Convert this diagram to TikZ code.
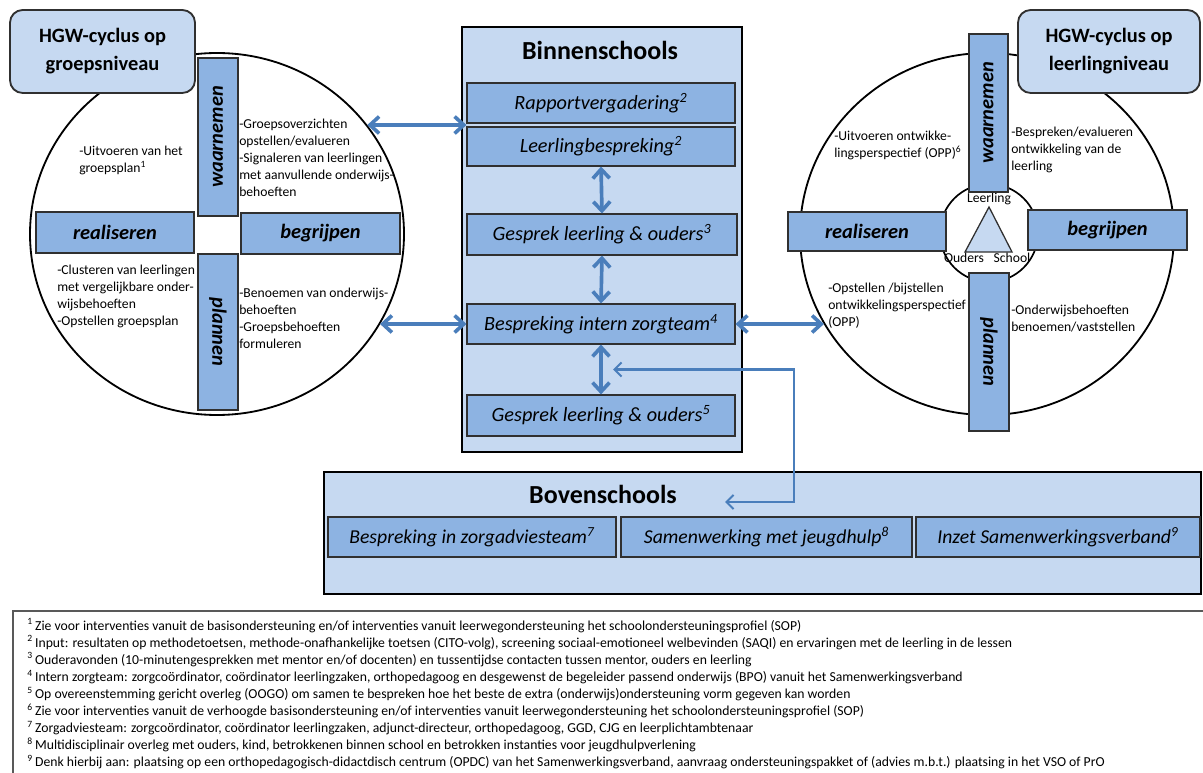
\documentclass[tikz,border=0pt]{standalone}
\usepackage{fontspec}
\setmainfont{Carlito}
\usetikzlibrary{arrows.meta,shapes.geometric,calc}
\definecolor{lichtblauw}{HTML}{C6D9F1}
\definecolor{middenblauw}{HTML}{8DB3E2}
\definecolor{pijlblauw}{HTML}{4A7EBB}
\definecolor{rand}{HTML}{303030}
\newcommand{\eenh}{0.025cm}
\tikzset{
  kop/.style={draw=rand, fill=lichtblauw, line width=1.3pt, rounded corners=9pt, align=center, font=\bfseries\fontsize{14.5}{20}\selectfont},
  fase/.style={draw=rand, fill=middenblauw, line width=0.9pt, inner sep=0pt, font=\bfseries\itshape\fontsize{14.5}{17}\selectfont},
  blok/.style={draw=rand, fill=middenblauw, line width=0.8pt, inner sep=0pt, font=\itshape\fontsize{14.4}{16}\selectfont},
  kader/.style={draw=black, fill=lichtblauw, line width=1.3pt, inner sep=0pt},
  uitleg/.style={anchor=north west, inner sep=0pt, align=left, font=\fontsize{9.7}{12.1}\selectfont},
  dubbel/.style={draw=pijlblauw, line width=2.6pt, {Straight Barb[length=6.5pt,width=12pt]}-{Straight Barb[length=6.5pt,width=12pt]}},
  terug/.style={draw=pijlblauw, line width=1.5pt, {Straight Barb[length=5pt,width=10pt]}-{Straight Barb[length=5pt,width=10pt]}},
}
\begin{document}
\begin{tikzpicture}[x=0.025cm, y=-0.025cm]
\useasboundingbox (0,0) rectangle (1203,773);
% linker cyclus
\node[ellipse, draw, line width=1.3pt, minimum width=374*\eenh, minimum height=362*\eenh] (lcirkel) at (217,234) {};
\node[fase, rotate=90, minimum width=158*\eenh, minimum height=40*\eenh] (lwaar) at (218,137) {waarnemen};
\node[fase, rotate=-90, minimum width=156*\eenh, minimum height=40*\eenh] (lplan) at (218,332) {plannen};
\node[fase, minimum width=158*\eenh, minimum height=41*\eenh] (lreal) at (115,232.5) {realiseren};
\node[fase, minimum width=159*\eenh, minimum height=41*\eenh] (lbegr) at (320.5,233.5) {begrijpen};
\node[kop, minimum width=185*\eenh, minimum height=83*\eenh] (ltitel) at (102.5,51.5) {HGW-cyclus op\\groepsniveau};
\node[uitleg] (luitv) at (79,146) {-Uitvoeren van het\\groepsplan\textsuperscript{1}};
\node[uitleg] (lgroep) at (239,119) {-Groepsoverzichten\\opstellen/evalueren\\-Signaleren van leerlingen\\met aanvullende onderwijs-\\behoeften};
\node[uitleg] (lclus) at (57,265) {-Clusteren van leerlingen\\met vergelijkbare onder-\\wijsbehoeften\\-Opstellen groepsplan};
\node[uitleg] (lbenoem) at (239,288) {-Benoemen van onderwijs-\\behoeften\\-Groepsbehoeften\\formuleren};
% rechter cyclus
\node[ellipse, draw, line width=1.3pt, minimum width=374*\eenh, minimum height=362*\eenh] (rcirkel) at (987,234) {};
\node[circle, draw, line width=1.2pt, fill=white, minimum size=98*\eenh] (kern) at (989,233) {};
\draw[draw=rand, fill=lichtblauw, line width=0.9pt] (989,207) -- (965,252) -- (1012,252) -- cycle;
\node[font=\fontsize{9.7}{11}\selectfont] (leerling) at (989,199) {Leerling};
\node[font=\fontsize{9.7}{11}\selectfont] (ouders) at (964,258) {Ouders};
\node[font=\fontsize{9.7}{11}\selectfont] (school) at (1012,258) {School};
\node[fase, rotate=90, minimum width=158*\eenh, minimum height=39*\eenh] (rwaar) at (988.5,113) {waarnemen};
\node[fase, rotate=-90, minimum width=158*\eenh, minimum height=40*\eenh] (rplan) at (989,352) {plannen};
\node[fase, minimum width=158*\eenh, minimum height=39*\eenh] (rreal) at (867,231.5) {realiseren};
\node[fase, minimum width=159*\eenh, minimum height=40*\eenh] (rbegr) at (1107.5,230) {begrijpen};
\node[kop, minimum width=182*\eenh, minimum height=83*\eenh] (rtitel) at (1109,51.5) {HGW-cyclus op\\leerlingniveau};
\node[uitleg] (ruitv) at (834,131) {-Uitvoeren ontwikke-\\lingsperspectief (OPP)\textsuperscript{6}};
\node[uitleg] (rbespr) at (1011,127) {-Bespreken/evalueren\\ontwikkeling van de\\leerling};
\node[uitleg] (ropst) at (828,283) {-Opstellen /bijstellen\\ontwikkelingsperspectief\\(OPP)};
\node[uitleg] (rbehoeft) at (1011,305) {-Onderwijsbehoeften\\benoemen/vaststellen};
% binnenschools
\node[kader, minimum width=280*\eenh, minimum height=425*\eenh] (binnen) at (602,239.5) {};
\node[font=\bfseries\fontsize{18.5}{20}\selectfont] (binnentitel) at (600,50) {Binnenschools};
\node[blok, minimum width=268*\eenh, minimum height=40*\eenh] (rapport) at (601,103) {Rapportvergadering\textsuperscript{2}};
\node[blok, minimum width=268*\eenh, minimum height=39*\eenh] (leerl) at (601,146.5) {Leerlingbespreking\textsuperscript{2}};
\node[blok, minimum width=270*\eenh, minimum height=41*\eenh] (gesprek1) at (602,234.5) {Gesprek leerling \& ouders\textsuperscript{3}};
\node[blok, minimum width=268*\eenh, minimum height=40*\eenh] (zorgteam) at (601,324) {Bespreking intern zorgteam\textsuperscript{4}};
\node[blok, minimum width=268*\eenh, minimum height=41*\eenh] (gesprek2) at (601,415.5) {Gesprek leerling \& ouders\textsuperscript{5}};
% bovenschools
\node[kader, minimum width=877*\eenh, minimum height=122*\eenh] (boven) at (762.5,533) {};
\node[font=\bfseries\fontsize{18.5}{20}\selectfont] (boventitel) at (603,494) {Bovenschools};
\node[blok, font=\itshape\fontsize{14}{16}\selectfont, minimum width=288*\eenh, minimum height=40*\eenh] (zat) at (472,537) {Bespreking in zorgadviesteam\textsuperscript{7}};
\node[blok, font=\itshape\fontsize{14}{16}\selectfont, minimum width=291*\eenh, minimum height=40*\eenh] (jeugd) at (766.5,537) {Samenwerking met jeugdhulp\textsuperscript{8}};
\node[blok, font=\itshape\fontsize{14}{16}\selectfont, minimum width=284*\eenh, minimum height=40*\eenh] (swv) at (1058,537) {Inzet Samenwerkingsverband\textsuperscript{9}};
% pijlen
\coordinate (lknik) at ($(rapport.south west)!.5!(leerl.north west)$);
\draw[dubbel] (lcirkel.36 |- lknik) -- (lknik);
\draw[dubbel] (lcirkel.-29 |- zorgteam.west) -- (zorgteam.west);
\draw[dubbel] (zorgteam.east) -- (rcirkel.209 |- zorgteam.east);
\draw[dubbel] (leerl.south) -- (gesprek1.north);
\draw[dubbel] (gesprek1.south) -- (zorgteam.north);
\draw[dubbel] (zorgteam.south) -- (gesprek2.north);
\coordinate (zijpijl) at ($(zorgteam.south)!.5!(gesprek2.north)+(12,0)$);
\coordinate (knik) at (794,502);
\coordinate (boventip) at (725,502);
\draw[terug] (zijpijl) -| (knik) -- (boventip);
% voetnoten
\draw[gray!70!black, line width=0.8pt] (13,773) -- (13,611) -- (1203,611);
\node[anchor=north west, inner sep=0pt, align=left, font=\fontsize{9.75}{12.1}\selectfont] (voetnoten) at (27,618.5) {%
\textsuperscript{1}\,Zie voor interventies vanuit de basisondersteuning en/of interventies vanuit leerwegondersteuning het schoolondersteuningsprofiel (SOP)\\
\textsuperscript{2}\,Input: resultaten op methodetoetsen, methode-onafhankelijke toetsen (CITO-volg), screening sociaal-emotioneel welbevinden (SAQI) en ervaringen met de leerling in de lessen\\
\textsuperscript{3}\,Ouderavonden (10-minutengesprekken met mentor en/of docenten) en tussentijdse contacten tussen mentor, ouders en leerling\\
\textsuperscript{4}\,Intern zorgteam: zorgcoördinator, coördinator leerlingzaken, orthopedagoog en desgewenst de begeleider passend onderwijs (BPO) vanuit het Samenwerkingsverband\\
\textsuperscript{5}\,Op overeenstemming gericht overleg (OOGO) om samen te bespreken hoe het beste de extra (onderwijs)ondersteuning vorm gegeven kan worden\\
\textsuperscript{6}\,Zie voor interventies vanuit de verhoogde basisondersteuning en/of interventies vanuit leerwegondersteuning het schoolondersteuningsprofiel (SOP)\\
\textsuperscript{7}\,Zorgadviesteam: zorgcoördinator, coördinator leerlingzaken, adjunct-directeur, orthopedagoog, GGD, CJG en leerplichtambtenaar\\
\textsuperscript{8}\,Multidisciplinair overleg met ouders, kind, betrokkenen binnen school en betrokken instanties voor jeugdhulpverlening\\
\textsuperscript{9}\,Denk hierbij aan: plaatsing op een orthopedagogisch-didactdisch centrum (OPDC) van het Samenwerkingsverband, aanvraag ondersteuningspakket of (advies m.b.t.) plaatsing in het VSO of PrO};
\end{tikzpicture}
\end{document}
